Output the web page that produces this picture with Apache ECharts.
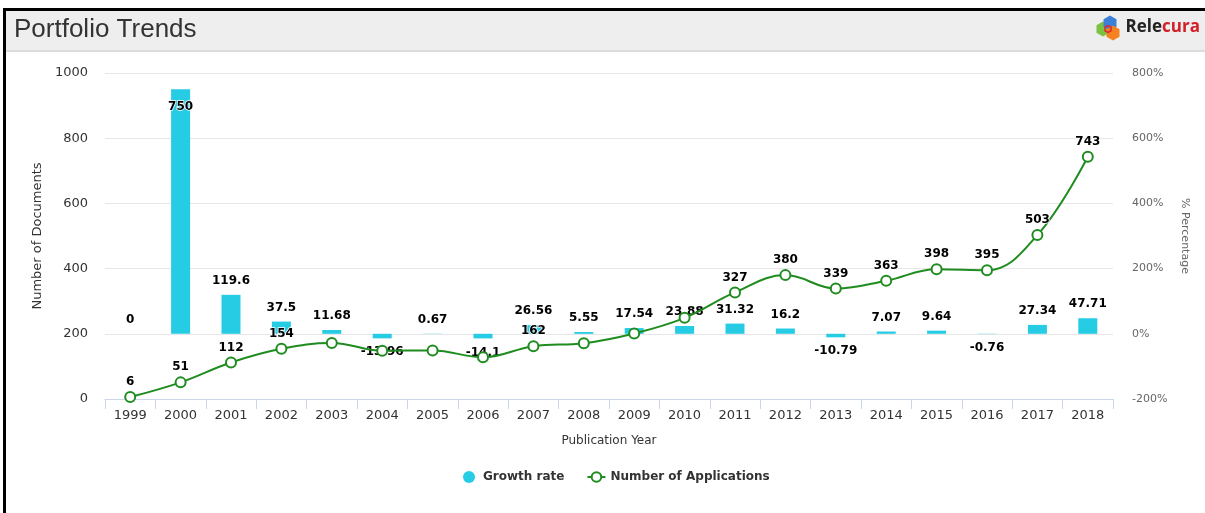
<!DOCTYPE html>
<html>
<head>
<meta charset="utf-8">
<title>Portfolio Trends</title>
<script src="https://cdn.jsdelivr.net/npm/echarts@6/dist/echarts.min.js"></script>
<style>
    html, body { margin: 0; padding: 0; background: #fff; }
    #chart { width: 1205px; height: 513px; }
</style>
</head>
<body>
<div id="chart"></div>
<script>
    // data
    var years = ['1999', '2000', '2001', '2002', '2003', '2004', '2005', '2006', '2007', '2008',
        '2009', '2010', '2011', '2012', '2013', '2014', '2015', '2016', '2017', '2018'];
    var growthRate = [0, 750, 119.6, 37.5, 11.68, -13.96, 0.67, -14.1, 26.56, 5.55,
        17.54, 23.88, 31.32, 16.2, -10.79, 7.07, 9.64, -0.76, 27.34, 47.71];
    var applications = [6, 51, 112, 154, 172, 148, 149, 128, 162, 171,
        201, 249, 327, 380, 339, 363, 398, 395, 503, 743];
    var docTicks = [0, 200, 400, 600, 800, 1000];
    var pctTicks = [-200, 0, 200, 400, 600, 800];
    // labels the original hides because they overlap
    var hiddenAppLabels = ['2003', '2004', '2005', '2006', '2008', '2009', '2010'];
    var insideGrowthLabels = ['2000'];

    var barColor = '#26cce4';
    var lineColor = '#1f8c1f';

    var chart = echarts.init(document.getElementById('chart'));

    function hexPoints(cx, cy, r) {
        var pts = [];
        for (var i = 0; i < 6; i++) {
            var a = Math.PI / 3 * i + Math.PI / 6;
            pts.push([cx + r * Math.cos(a), cy + r * Math.sin(a)]);
        }
        return pts;
    }

    var labelFont = {
        fontFamily: 'DejaVu Sans',
        fontSize: 12,
        fontWeight: 'bold',
        color: '#000',
        textBorderColor: '#fff',
        textBorderWidth: 1.5
    };

    var barData = growthRate.map(function (v, i) {
        var lbl = { position: v < 0 ? 'bottom' : 'top' };
        if (insideGrowthLabels.indexOf(years[i]) >= 0) {
            lbl = { position: 'insideTop', offset: [0, 4] };
        }
        return { value: v, label: lbl };
    });

    var lineData = applications.map(function (v, i) {
        return { value: v, label: { show: hiddenAppLabels.indexOf(years[i]) < 0 } };
    });

    option = {
        animation: false,
        title: {
            text: 'Portfolio Trends',
            left: 14,
            top: 17,
            padding: 0,
            textStyle: {
                fontFamily: 'Liberation Sans',
                fontSize: 26,
                fontWeight: 'normal',
                color: '#333'
            }
        },
        graphic: [
            { type: 'rect', z: -10, shape: { x: 6, y: 11, width: 1199, height: 39 }, style: { fill: '#eeeeee' } },
            { type: 'rect', z: -10, shape: { x: 6, y: 50, width: 1199, height: 2 }, style: { fill: '#dcdcdc' } },
            { type: 'rect', z: -9, shape: { x: 3, y: 8, width: 1202, height: 3 }, style: { fill: '#000' } },
            { type: 'rect', z: -9, shape: { x: 3, y: 8, width: 3, height: 505 }, style: { fill: '#000' } },
            // logo
            { type: 'polygon', shape: { points: hexPoints(1103, 29, 7.5) }, style: { fill: '#7cc242' } },
            { type: 'polygon', shape: { points: hexPoints(1110, 23, 7.5) }, style: { fill: '#3c7fd8' } },
            { type: 'polygon', shape: { points: hexPoints(1113, 33, 7.5) }, style: { fill: '#f58220' } },
            { type: 'polygon', shape: { points: hexPoints(1108, 29, 3.5) }, style: { fill: 'none', stroke: '#e0262b', lineWidth: 1.5 } },
            {
                type: 'text', right: 5, top: 19,
                style: {
                    text: '{a|Rele}{b|cura}',
                    rich: {
                        a: { fontFamily: 'Open Sans', fontSize: 17, fontWeight: 'bold', fill: '#222' },
                        b: { fontFamily: 'Open Sans', fontSize: 17, fontWeight: 'bold', fill: '#d2202a' }
                    }
                }
            }
        ],
        legend: {
            bottom: 25,
            left: 458,
            itemGap: 22,
            itemWidth: 18,
            itemHeight: 12,
            textStyle: {
                fontFamily: 'DejaVu Sans',
                fontSize: 12,
                fontWeight: 'bold',
                color: '#333'
            },
            data: [
                { name: 'Growth rate', icon: 'circle' },
                { name: 'Number of Applications' }
            ]
        },
        grid: {
            left: 105,
            right: 92,
            top: 73,
            bottom: 114
        },
        xAxis: {
            type: 'category',
            data: years,
            name: 'Publication Year',
            nameLocation: 'middle',
            nameGap: 36,
            nameTextStyle: { fontFamily: 'DejaVu Sans', fontSize: 12, color: '#333' },
            axisLine: { lineStyle: { color: '#ccd6eb' } },
            axisTick: { show: true, length: 10, lineStyle: { color: '#ccd6eb' } },
            axisLabel: {
                fontFamily: 'DejaVu Sans',
                fontSize: 13,
                color: '#333',
                margin: 10,
                interval: 0
            }
        },
        yAxis: [
            {
                type: 'value',
                min: docTicks[0],
                max: docTicks[docTicks.length - 1],
                interval: docTicks[1] - docTicks[0],
                name: 'Number of Documents',
                nameLocation: 'middle',
                nameGap: 58,
                nameTextStyle: { fontFamily: 'DejaVu Sans', fontSize: 13, color: '#333' },
                axisLine: { show: false },
                axisTick: { show: false },
                splitLine: { lineStyle: { color: '#e6e6e6' } },
                axisLabel: {
                    fontFamily: 'DejaVu Sans',
                    fontSize: 13,
                    color: '#333',
                    margin: 17,
                    formatter: function (v) { return String(v); }
                }
            },
            {
                type: 'value',
                position: 'right',
                min: pctTicks[0],
                max: pctTicks[pctTicks.length - 1],
                interval: pctTicks[1] - pctTicks[0],
                name: '% Percentage',
                nameLocation: 'middle',
                nameRotate: -90,
                nameGap: 66,
                nameTextStyle: { fontFamily: 'DejaVu Sans', fontSize: 11, color: '#666' },
                axisLine: { show: false },
                axisTick: { show: false },
                splitLine: { show: false },
                axisLabel: {
                    fontFamily: 'DejaVu Sans',
                    fontSize: 11,
                    color: '#666',
                    margin: 19,
                    formatter: '{value}%'
                }
            }
        ],
        series: [
            {
                name: 'Growth rate',
                type: 'bar',
                yAxisIndex: 1,
                barWidth: 19,
                itemStyle: { color: barColor },
                label: Object.assign({ show: true, distance: 8 }, labelFont),
                data: barData
            },
            {
                name: 'Number of Applications',
                type: 'line',
                yAxisIndex: 0,
                smooth: 0.4,
                symbol: 'circle',
                symbolSize: 10,
                lineStyle: { color: lineColor, width: 2 },
                itemStyle: { color: '#fff', borderColor: lineColor, borderWidth: 2 },
                label: Object.assign({ show: true, position: 'top', distance: 3 }, labelFont),
                data: lineData
            }
        ]
    };
    chart.setOption(option);
</script>
</body>
</html>
